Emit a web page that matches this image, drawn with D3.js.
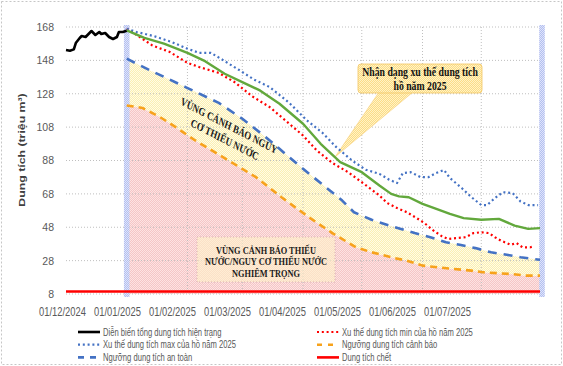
<!DOCTYPE html>
<html>
<head>
<meta charset="utf-8">
<script src="https://cdn.jsdelivr.net/npm/d3@7"></script>
<style>
  body { margin: 0; background: #fff; }
  svg { display: block; }
</style>
</head>
<body>
<svg id="chart" width="563" height="366"></svg>
<script>
// values (triệu m3)
const actualSeries = [
  ["2024-12-01", 154.2], ["2024-12-03", 153.8], ["2024-12-05", 154.6], ["2024-12-06", 158.4],
  ["2024-12-08", 161.4], ["2024-12-09", 162.6], ["2024-12-11", 162], ["2024-12-13", 164.4],
  ["2024-12-14", 165.6], ["2024-12-15", 164.4], ["2024-12-16", 163.2], ["2024-12-18", 165],
  ["2024-12-19", 163.8], ["2024-12-21", 164.4], ["2024-12-23", 162], ["2024-12-25", 160.8],
  ["2024-12-27", 162], ["2024-12-28", 165], ["2024-12-30", 165], ["2025-01-01", 165.8],
];
const trendSeries = [
  ["2025-01-01", 166], ["2025-01-10", 161.5], ["2025-01-20", 158], ["2025-02-01", 152.5],
  ["2025-02-10", 147.5], ["2025-02-20", 140], ["2025-03-01", 135], ["2025-03-10", 130],
  ["2025-03-20", 122], ["2025-04-01", 110], ["2025-04-10", 98], ["2025-04-20", 87],
  ["2025-05-01", 81], ["2025-05-10", 73], ["2025-05-16", 68], ["2025-05-20", 66.5],
  ["2025-05-25", 66], ["2025-06-01", 62], ["2025-06-07", 59.5], ["2025-06-15", 56],
  ["2025-06-22", 53.5], ["2025-07-01", 52.5], ["2025-07-10", 53], ["2025-07-18", 49],
  ["2025-07-25", 47], ["2025-07-31", 47.5],
];
const maxSeries = [
  ["2025-01-01", 167], ["2025-01-06", 165], ["2025-01-15", 162.5], ["2025-01-24", 159],
  ["2025-02-01", 155], ["2025-02-07", 152.5], ["2025-02-13", 152.5], ["2025-02-18", 149],
  ["2025-02-27", 142.5], ["2025-03-07", 136.5], ["2025-03-15", 132], ["2025-03-25", 122.5],
  ["2025-04-03", 112], ["2025-04-11", 104.5], ["2025-04-18", 96], ["2025-04-26", 88],
  ["2025-05-03", 82.5], ["2025-05-10", 80], ["2025-05-15", 76.5], ["2025-05-19", 74.5],
  ["2025-05-22", 80.5], ["2025-05-26", 81], ["2025-05-31", 78], ["2025-06-04", 78],
  ["2025-06-08", 80.5], ["2025-06-12", 82.3], ["2025-06-15", 77.5], ["2025-06-21", 71.5],
  ["2025-06-26", 66], ["2025-07-01", 61.3], ["2025-07-04", 61.3], ["2025-07-08", 65.5],
  ["2025-07-12", 69], ["2025-07-17", 68.5], ["2025-07-21", 63.5], ["2025-07-25", 61.3],
  ["2025-07-30", 61.3],
];
const minSeries = [
  ["2025-01-01", 167], ["2025-01-07", 162.5], ["2025-01-14", 157], ["2025-01-23", 153],
  ["2025-02-01", 146.5], ["2025-02-07", 144], ["2025-02-17", 140.5], ["2025-02-25", 135],
  ["2025-03-06", 126.5], ["2025-03-15", 120], ["2025-03-24", 111], ["2025-04-01", 103],
  ["2025-04-08", 94], ["2025-04-16", 86.5], ["2025-04-24", 81], ["2025-05-01", 75],
  ["2025-05-05", 71.5], ["2025-05-10", 67], ["2025-05-14", 62.5], ["2025-05-19", 59.5],
  ["2025-05-24", 57], ["2025-05-29", 53.5], ["2025-06-02", 50.5], ["2025-06-06", 46.5],
  ["2025-06-11", 42.5], ["2025-06-14", 41], ["2025-06-18", 41.5], ["2025-06-23", 42],
  ["2025-06-27", 44.5], ["2025-07-01", 45], ["2025-07-05", 44.5], ["2025-07-08", 42],
  ["2025-07-11", 40], ["2025-07-16", 37.5], ["2025-07-19", 38.5], ["2025-07-22", 36],
  ["2025-07-26", 36], ["2025-07-28", 36.5],
];
const safeSeries = [
  ["2025-01-01", 149], ["2025-01-13", 142], ["2025-01-31", 132], ["2025-02-17", 122.5],
  ["2025-03-01", 113], ["2025-03-13", 102], ["2025-04-01", 83], ["2025-04-10", 74.5],
  ["2025-04-21", 64], ["2025-04-27", 57], ["2025-05-06", 52.5], ["2025-05-15", 49],
  ["2025-05-21", 47], ["2025-05-28", 44.5], ["2025-06-05", 42], ["2025-06-13", 39],
  ["2025-06-20", 37.5], ["2025-06-28", 35.5], ["2025-07-06", 33], ["2025-07-14", 31.5],
  ["2025-07-21", 30], ["2025-07-31", 28.5],
];
const warnSeries = [
  ["2025-01-01", 121], ["2025-01-09", 119.5], ["2025-01-18", 114], ["2025-01-26", 108],
  ["2025-02-05", 100], ["2025-02-22", 88], ["2025-03-08", 78], ["2025-03-21", 66],
  ["2025-04-04", 54], ["2025-04-16", 44.5], ["2025-04-28", 36], ["2025-05-06", 33],
  ["2025-05-16", 30], ["2025-05-24", 28], ["2025-06-01", 25], ["2025-06-09", 24],
  ["2025-06-17", 23], ["2025-06-26", 22], ["2025-07-02", 21], ["2025-07-09", 20.5],
  ["2025-07-16", 20], ["2025-07-24", 19], ["2025-07-31", 19],
];
const deadSeries = [["2024-12-01", 9.5], ["2025-07-31", 9.5]];

const yTicks = [8, 28, 48, 68, 88, 108, 128, 148, 168];
const xTickLabels = ["01/12/2024", "01/01/2025", "01/02/2025", "01/03/2025",
  "01/04/2025", "01/05/2025", "01/06/2025", "01/07/2025"];
const markerDates = ["2025-01-01", "2025-08-01"];

const legendKeys = ["actual", "min", "max", "warn", "safe", "dead"];
const legendLabels = [
  "Diễn biến tổng dung tích hiện trạng", "Xu thế dung tích min của hồ năm 2025",
  "Xu thế dung tích max của hồ năm 2025", "Ngưỡng dung tích cảnh báo",
  "Ngưỡng dung tích an toàn", "Dung tích chết",
];
const warnZoneText = ["VÙNG CẢNH BÁO NGUY", "CƠ THIẾU NƯỚC"];
const severeZoneText = ["VÙNG CẢNH BÁO THIẾU", "NƯỚC/NGUY CƠ THIẾU NƯỚC", "NGHIÊM TRỌNG"];
const calloutText = ["Nhận dạng xu thế dung tích", "hồ năm 2025"];

const SANS = "'Liberation Sans', Arial, sans-serif";
const SERIF = "'Liberation Serif', 'Times New Roman', serif";
const SQUASH = 0.75;

const parse = d3.timeParse("%Y-%m-%d");
const svg = d3.select("#chart");

const x = d3.scaleTime()
  .domain([parse("2024-12-01"), parse("2025-08-01")])
  .range([66, 542]);
const y = d3.scaleLinear().domain([8, 168]).range([294, 27]);
const xLabel = d3.scalePoint().domain(xTickLabels).range([62, 447]);

const styles = {
  actual: { stroke: "#000", width: 2.6, dash: null },
  trend: { stroke: "#62a83c", width: 2.4, dash: null },
  max: { stroke: "#4472c4", width: 2.2, dash: "2,2.8" },
  min: { stroke: "#ff0000", width: 2.2, dash: "2,2.8" },
  safe: { stroke: "#4472c4", width: 2.6, dash: "9,7" },
  warn: { stroke: "#f7a21b", width: 2.6, dash: "7,5" },
  dead: { stroke: "#ff0000", width: 2.6, dash: null },
};

// fine two-tone tiles, like the office fill patterns
const defs = svg.append("defs");
function tile(id, base, light) {
  const p = defs.append("pattern").attr("id", id)
    .attr("width", 2).attr("height", 2).attr("patternUnits", "userSpaceOnUse");
  p.append("rect").attr("width", 2).attr("height", 2).attr("fill", base);
  p.append("rect").attr("width", 1).attr("height", 1).attr("fill", light);
  p.append("rect").attr("x", 1).attr("y", 1).attr("width", 1).attr("height", 1).attr("fill", light);
}
tile("pink", "#f5c6c6", "#fde3e3");
tile("yellow", "#fbefb2", "#fffce6");
tile("band", "#b4c0ef", "#dfe4fb");
tile("callout", "#fcdc86", "#fff3c6");

// outer frame
svg.append("rect")
  .attr("x", 1.5).attr("y", 1.5).attr("width", 560).attr("height", 363)
  .attr("fill", "none").attr("stroke", "#c6c6c6").attr("stroke-dasharray", "2,2");

const px = (d) => x(parse(d[0]));
const py = (d) => y(d[1]);
const line = d3.line().x(px).y(py);

// pink zone under the warning threshold
svg.append("path")
  .datum(warnSeries)
  .attr("d", d3.area().x(px).y0(y(8)).y1(py))
  .attr("fill", "url(#pink)");

// yellow zone between warning and safe thresholds
const zonePts = safeSeries.map((d) => [px(d), py(d)])
  .concat(warnSeries.slice().reverse().map((d) => [px(d), py(d)]));
svg.append("path")
  .attr("d", d3.line()(zonePts) + "Z")
  .attr("fill", "url(#yellow)");

// grid
svg.append("g").attr("class", "grid-y")
  .selectAll("line").data(yTicks).join("line")
  .attr("x1", 66).attr("x2", 542)
  .attr("y1", (d) => y(d)).attr("y2", (d) => y(d))
  .attr("stroke", "#b8b8b8").attr("stroke-dasharray", "1,2").attr("stroke-opacity", 0.9);

const monthTicks = x.ticks(d3.timeMonth.every(1))
  .filter((d) => d > x.domain()[0] && d < x.domain()[1]);
svg.append("g").attr("class", "grid-x")
  .selectAll("line").data(monthTicks).join("line")
  .attr("x1", (d) => x(d)).attr("x2", (d) => x(d))
  .attr("y1", y(168)).attr("y2", y(8))
  .attr("stroke", "#b8b8b8").attr("stroke-dasharray", "1,2").attr("stroke-opacity", 0.9);

// marker bands at start of 2025 forecast and at the end
svg.append("g").attr("class", "bands")
  .selectAll("rect").data(markerDates).join("rect")
  .attr("x", (d) => x(parse(d)) - 2.8).attr("width", 5.6)
  .attr("y", 25).attr("height", 272)
  .attr("fill", "url(#band)");

// bottom zone label box
const sevBox = svg.append("g").attr("class", "severe-box");
sevBox.append("rect")
  .attr("x", 197).attr("y", 237).attr("width", 138).attr("height", 45)
  .attr("fill", "#fff6c8").attr("fill-opacity", 0.55)
  .attr("stroke", "#d8b0b0").attr("stroke-dasharray", "1,2");
sevBox.selectAll("g").data(severeZoneText).join("g")
  .attr("transform", (d, i) => `translate(266,${250 + i * 11.6}) scale(0.8,1)`)
  .append("text")
  .attr("text-anchor", "middle").attr("dy", "0.35em")
  .attr("font-family", SERIF).attr("font-weight", 700).attr("font-size", 10.4)
  .attr("fill", "#1a1a1a")
  .text((d) => d);

// callout
const callout = svg.append("g").attr("class", "callout");
callout.append("path")
  .attr("d", "M379,92L413,92L335,157Z")
  .attr("fill", "url(#callout)").attr("stroke", "#f6cf7a").attr("stroke-width", 0.6);
callout.append("rect")
  .attr("x", 358).attr("y", 64).attr("width", 124).attr("height", 29).attr("rx", 3)
  .attr("fill", "url(#callout)").attr("stroke", "#f3c563").attr("stroke-width", 0.8);
callout.selectAll("g").data(calloutText).join("g")
  .attr("transform", (d, i) => `translate(420,${72 + i * 14}) scale(0.8,1)`)
  .append("text")
  .attr("text-anchor", "middle").attr("dy", "0.35em")
  .attr("font-family", SERIF).attr("font-weight", 700).attr("font-size", 12.2)
  .attr("fill", "#111")
  .text((d) => d);

// series
const seriesList = [
  ["dead", deadSeries], ["warn", warnSeries], ["safe", safeSeries],
  ["min", minSeries], ["max", maxSeries], ["trend", trendSeries], ["actual", actualSeries],
];
svg.append("g").attr("class", "series")
  .selectAll("path").data(seriesList).join("path")
  .attr("d", (d) => line(d[1]))
  .attr("fill", "none")
  .attr("stroke", (d) => styles[d[0]].stroke)
  .attr("stroke-width", (d) => styles[d[0]].width)
  .attr("stroke-dasharray", (d) => styles[d[0]].dash)
  .attr("stroke-linejoin", "round");

// rotated zone label
svg.append("g").attr("class", "warn-zone-label")
  .attr("transform", "translate(227,132.5) scale(0.78,1) rotate(22)")
  .selectAll("text").data(warnZoneText).join("text")
  .attr("x", 0).attr("y", (d, i) => (i - 0.5) * 15)
  .attr("text-anchor", "middle").attr("dy", "0.35em")
  .attr("font-family", SERIF).attr("font-weight", 700).attr("font-size", 11.3)
  .attr("fill", "#1a1a1a")
  .text((d) => d);

// axes
const yAxis = svg.append("g").attr("class", "y-axis")
  .attr("transform", "translate(58,0)")
  .call(d3.axisLeft(y).tickValues(yTicks).tickSize(0).tickPadding(4).tickFormat(d3.format("d")));
yAxis.select(".domain").remove();
yAxis.selectAll("text")
  .attr("font-family", SANS).attr("font-size", 10.5).attr("fill", "#595959");

const xAxis = svg.append("g").attr("class", "x-axis")
  .attr("transform", "translate(0,307)")
  .call(d3.axisBottom(xLabel).tickSize(0).tickPadding(0));
xAxis.select(".domain").remove();
xAxis.selectAll("text")
  .attr("font-family", SANS).attr("font-size", 12.5).attr("fill", "#595959")
  .attr("dy", "0.71em")
  .attr("transform", `scale(${SQUASH},1)`);

svg.append("g").attr("class", "y-title")
  .attr("transform", `translate(21.5,150) scale(${SQUASH},1) rotate(-90)`)
  .append("text")
  .attr("text-anchor", "middle").attr("dy", "0.35em")
  .attr("font-family", SANS).attr("font-weight", 700).attr("font-size", 12.3)
  .attr("fill", "#404040")
  .text("Dung tích (triệu m³)");

// legend
const legend = svg.append("g").attr("class", "legend")
  .selectAll("g").data(legendKeys).join("g")
  .attr("transform", (d, i) => `translate(${i % 2 ? 317 : 78},${332 + Math.floor(i / 2) * 12.7})`);
legend.append("line")
  .attr("x1", 0).attr("x2", 22)
  .attr("stroke", (d) => styles[d].stroke)
  .attr("stroke-width", (d) => styles[d].width)
  .attr("stroke-dasharray", (d) => (d === "safe" ? "6,6" : d === "warn" ? "5,6" : styles[d].dash));
legend.append("g")
  .attr("transform", `translate(25,0) scale(0.72,1)`)
  .append("text")
  .attr("dy", "0.35em")
  .attr("font-family", SANS).attr("font-size", 10.6).attr("fill", "#595959")
  .text((d, i) => legendLabels[i]);
</script>
</body>
</html>
